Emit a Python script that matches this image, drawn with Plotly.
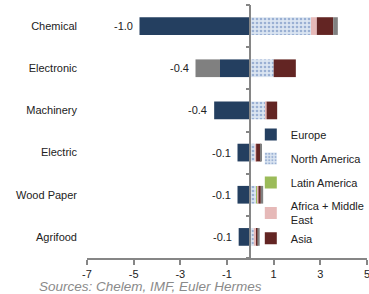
import plotly.graph_objects as go

categories = ["Chemical", "Electronic", "Machinery", "Electric", "Wood Paper", "Agrifood"]
europe = [-4.75, -1.3, -1.55, -0.55, -0.55, -0.5]
north_america = [2.6, 1.0, 0.65, 0.2, 0.25, 0.15]
latin_america = [0.0, 0.0, 0.0, 0.0, 0.05, 0.0]
africa_me = [0.25, 0.0, 0.05, 0.05, 0.05, 0.1]
asia = [0.7, 0.95, 0.45, 0.2, 0.1, 0.05]
others = [0.2, -1.05, 0.0, 0.05, 0.1, 0.1]
net_labels = ["-1.0", "-0.4", "-0.4", "-0.1", "-0.1", "-0.1"]
x_ticks = [-7, -5, -3, -1, 1, 3, 5]
x_tick_text = ["-7", "-5", "-3", "-1", "1", "3", "5"]

ypos = list(range(len(categories)))
FONT = "Liberation Sans, Arial, sans-serif"
AXIS = "#868686"

fig = go.Figure()
bw = 0.42
fig.add_bar(y=ypos, x=europe, orientation="h", name="Europe", width=bw,
            marker=dict(color="#243F60", line=dict(width=0)), legendgroup="a")
fig.add_bar(y=ypos, x=north_america, orientation="h", name="North America", width=bw,
            marker=dict(color="#dbe5f1", line=dict(width=0),
                        pattern=dict(shape=".", fgcolor="#5a7bb5", bgcolor="#dbe5f1",
                                     size=4, solidity=0.35)), legendgroup="b")
fig.add_bar(y=ypos, x=latin_america, orientation="h", name="Latin America", width=bw,
            marker=dict(color="#9BBB59", line=dict(width=0)), legendgroup="c")
fig.add_bar(y=ypos, x=africa_me, orientation="h", name="Africa + Middle<br>East", width=bw,
            marker=dict(color="#E6B9B8", line=dict(width=0)), legendgroup="d")
fig.add_bar(y=ypos, x=asia, orientation="h", name="Asia", width=bw,
            marker=dict(color="#632523", line=dict(width=0)), legendgroup="d")
fig.add_bar(y=ypos, x=others, orientation="h", name="Others", width=bw, showlegend=False,
            marker=dict(color="#808080", line=dict(width=0)), legendgroup="f")

# net labels at the left end of each bar
for i in ypos:
    neg = sum(v for v in (europe[i], north_america[i], latin_america[i],
                          africa_me[i], asia[i], others[i]) if v < 0)
    fig.add_annotation(x=neg, y=i, text=net_labels[i], showarrow=False,
                       xanchor="right", xshift=-5, font=dict(size=11, color="#222222", family=FONT))

# dummy trace for the vertical axis at zero
fig.add_scatter(x=[0], y=[0], yaxis="y2", mode="markers", marker=dict(opacity=0),
                showlegend=False, hoverinfo="skip")

yr = [5.5, -0.5]
fig.update_layout(
    width=369, height=294,
    margin=dict(l=87, r=2, t=5, b=36, autoexpand=False),
    paper_bgcolor="white", plot_bgcolor="white",
    barmode="relative",
    font=dict(family=FONT, size=11, color="#222222"),
    showlegend=True,
    legend=dict(x=0.585, y=0.545, xanchor="left", yanchor="top",
                font=dict(size=11, family=FONT, color="#222222"),
                bgcolor="rgba(0,0,0,0)", tracegroupgap=5,
                itemwidth=30),
    xaxis=dict(range=[-7, 5], tickvals=x_ticks, ticktext=x_tick_text,
               showgrid=False, zeroline=False, showline=True, linecolor=AXIS, linewidth=1.5,
               ticks="outside", ticklen=5, tickcolor=AXIS, tickwidth=1.5,
               ticklabeloverflow="allow",
               tickfont=dict(size=11, color="#222222")),
    yaxis=dict(range=yr, tickvals=ypos, ticktext=categories, showgrid=False,
               zeroline=False, showline=False, ticks="", ticklabelstandoff=9,
               tickfont=dict(size=11, color="#222222")),
    yaxis2=dict(range=yr, overlaying="y", anchor="free", position=7/12, side="left",
                tickvals=[-0.5, 0.5, 1.5, 2.5, 3.5, 4.5, 5.5], showticklabels=False,
                showgrid=False, zeroline=False, showline=True, linecolor=AXIS, linewidth=1.5,
                ticks="outside", ticklen=4, tickcolor=AXIS, tickwidth=1.5),
)
fig.add_annotation(xref="paper", yref="paper", x=-0.18, y=-0.113, xanchor="left", yanchor="middle",
                   text="<i>Sources: Chelem, IMF, Euler Hermes</i>", showarrow=False,
                   font=dict(size=13.5, color="#8a8a8a", family=FONT))

fig.write_html("out.html", config={"displayModeBar": False},
               post_script="document.body.style.margin='0';document.body.style.overflow='hidden';")
